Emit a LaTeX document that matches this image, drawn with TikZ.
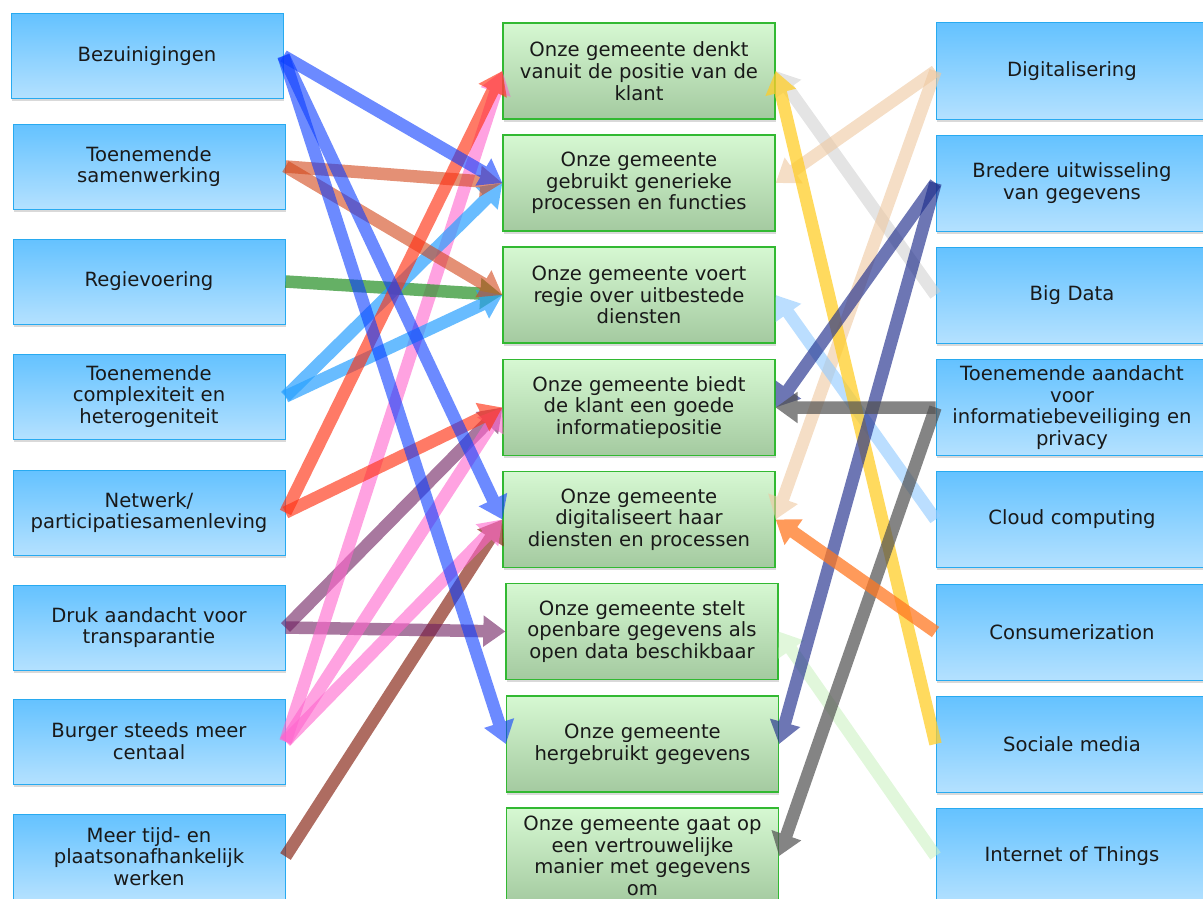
\documentclass[tikz,border=0pt]{standalone}
\usepackage{fontspec}
\setmainfont{DejaVu Sans}
\usetikzlibrary{arrows.meta,shadows}
\definecolor{bTop}{RGB}{100,194,255}
\definecolor{bBot}{RGB}{180,225,255}
\definecolor{bLine}{RGB}{40,170,240}
\definecolor{gTop}{RGB}{214,248,210}
\definecolor{gBot}{RGB}{164,202,160}
\definecolor{gLine}{RGB}{50,185,50}
\definecolor{txt}{RGB}{25,25,25}
\definecolor{cBlue}{RGB}{10,60,255}
\definecolor{cOrRed}{RGB}{210,70,25}
\definecolor{cGreen}{RGB}{50,150,50}
\definecolor{cLBlue}{RGB}{40,160,255}
\definecolor{cRed}{RGB}{255,50,20}
\definecolor{cPurple}{RGB}{110,30,95}
\definecolor{cPink}{RGB}{255,100,205}
\definecolor{cBrown}{RGB}{140,45,30}
\definecolor{cPeach}{RGB}{238,200,160}
\definecolor{cDBlue}{RGB}{30,45,140}
\definecolor{cLGray}{RGB}{205,205,205}
\definecolor{cGray}{RGB}{80,80,80}
\definecolor{cSky}{RGB}{150,205,255}
\definecolor{cOrange}{RGB}{255,120,35}
\definecolor{cYellow}{RGB}{255,205,40}
\definecolor{cLGreen}{RGB}{205,242,195}
\newcommand\linkarrow[4]{%
  \begin{scope}[transparency group,opacity=#2]
    \draw[conn,draw=#1,fill=#1] (#3) -- (#4);
  \end{scope}}
\begin{document}
\begin{tikzpicture}[x=1pt,y=-1pt,
  box/.style={rectangle, minimum width=272pt, align=center, text width=266pt,
    inner sep=0pt, font=\fontsize{19.6}{21.7}\selectfont, text=txt,
    drop shadow={shadow xshift=0.8pt,shadow yshift=-2.5pt,opacity=0.3}},
  bluebox/.style={box, draw=bLine, line width=1pt, top color=bTop, bottom color=bBot},
  leftbox/.style={bluebox, minimum height=85pt},
  rightbox/.style={bluebox, minimum height=96pt},
  greenbox/.style={box, draw=gLine, line width=1.3pt, top color=gTop, bottom color=gBot, minimum height=96pt},
  conn/.style={line width=12.5pt, -{Triangle[length=22pt,width=30pt]}}
]
\useasboundingbox (0,0) rectangle (1203,899);
% left column
\node[leftbox] (L1) at (147,56) {Bezuinigingen};
\node[leftbox] (L2) at (149,166.5) {Toenemende\\samenwerking};
\node[leftbox] (L3) at (149,281.5) {Regievoering};
\node[leftbox] (L4) at (149,396.5) {Toenemende\\complexiteit en\\heterogeniteit};
\node[leftbox] (L5) at (149,512.5) {Netwerk/\\participatiesamenleving};
\node[leftbox] (L6) at (149,627.5) {Druk aandacht voor\\transparantie};
\node[leftbox] (L7) at (149,741.5) {Burger steeds meer\\centaal};
\node[leftbox] (L8) at (149,856.5) {Meer tijd- en\\plaatsonafhankelijk\\werken};
% middle column
\node[greenbox] (M1) at (639,71) {Onze gemeente denkt\\vanuit de positie van de\\klant};
\node[greenbox] (M2) at (639,183) {Onze gemeente\\gebruikt generieke\\processen en functies};
\node[greenbox] (M3) at (639,295) {Onze gemeente voert\\regie over uitbestede\\diensten};
\node[greenbox] (M4) at (639,407.5) {Onze gemeente biedt\\de klant een goede\\informatiepositie};
\node[greenbox] (M5) at (639,519.5) {Onze gemeente\\digitaliseert haar\\diensten en processen};
\node[greenbox] (M6) at (642,631.5) {Onze gemeente stelt\\openbare gegevens als\\open data beschikbaar};
\node[greenbox] (M7) at (642.5,744) {Onze gemeente\\hergebruikt gegevens};
\node[greenbox] (M8) at (642.5,856) {Onze gemeente gaat op\\een vertrouwelijke\\manier met gegevens\\om};
% right column
\node[rightbox] (R1) at (1072,71) {Digitalisering};
\node[rightbox] (R2) at (1072,183) {Bredere uitwisseling\\van gegevens};
\node[rightbox] (R3) at (1072,295) {Big Data};
\node[rightbox] (R4) at (1072,407.5) {Toenemende aandacht\\voor\\informatiebeveiliging en\\privacy};
\node[rightbox] (R5) at (1072,519.5) {Cloud computing};
\node[rightbox] (R6) at (1072,632) {Consumerization};
\node[rightbox] (R7) at (1072,744) {Sociale media};
\node[rightbox] (R8) at (1072,856) {Internet of Things};
% connectors from the right
\linkarrow{cLGreen}{0.6}{R8.west}{M6.east}
\linkarrow{cLGray}{0.55}{R3.west}{M1.east}
\linkarrow{cPeach}{0.6}{R1.west}{M2.east}
\linkarrow{cPeach}{0.6}{R1.west}{M5.east}
\linkarrow{cSky}{0.65}{R5.west}{M3.east}
\linkarrow{cYellow}{0.75}{R7.west}{M1.east}
\linkarrow{cDBlue}{0.65}{R2.west}{M4.east}
\linkarrow{cDBlue}{0.65}{R2.west}{M7.east}
\linkarrow{cGray}{0.7}{R4.west}{M4.east}
\linkarrow{cGray}{0.7}{R4.west}{M8.east}
\linkarrow{cOrange}{0.75}{R6.west}{M5.east}
% connectors from the left
\linkarrow{cBrown}{0.7}{L8.east}{M5.west}
\linkarrow{cPurple}{0.6}{L6.east}{M4.west}
\linkarrow{cPurple}{0.6}{L6.east}{M6.west}
\linkarrow{cPink}{0.6}{L7.east}{M1.west}
\linkarrow{cPink}{0.6}{L7.east}{M4.west}
\linkarrow{cPink}{0.6}{L7.east}{M5.west}
\linkarrow{cGreen}{0.75}{L3.east}{M3.west}
\linkarrow{cLBlue}{0.7}{L4.east}{M2.west}
\linkarrow{cLBlue}{0.7}{L4.east}{M3.west}
\linkarrow{cOrRed}{0.6}{L2.east}{M2.west}
\linkarrow{cOrRed}{0.6}{L2.east}{M3.west}
\linkarrow{cRed}{0.65}{L5.east}{M1.west}
\linkarrow{cRed}{0.65}{L5.east}{M4.west}
\linkarrow{cBlue}{0.6}{L1.east}{M2.west}
\linkarrow{cBlue}{0.6}{L1.east}{M5.west}
\linkarrow{cBlue}{0.6}{L1.east}{M7.west}
\end{tikzpicture}
\end{document}
